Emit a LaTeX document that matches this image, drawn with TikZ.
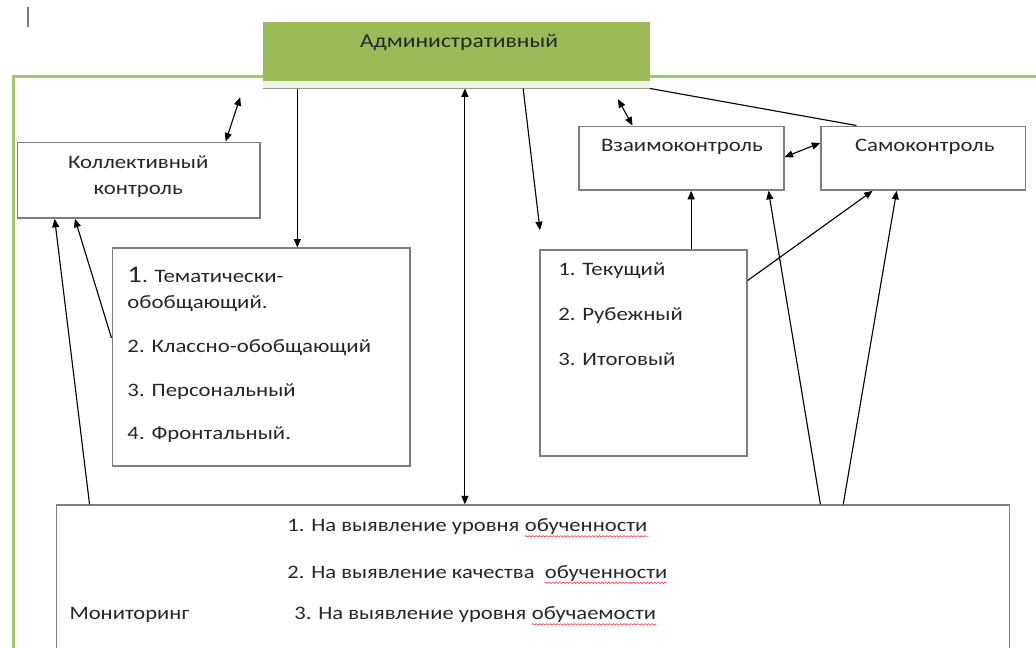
\documentclass[tikz,border=0pt]{standalone}
\usepackage{fontspec}
\setmainfont{Carlito}[FakeStretch=1.2]
\newfontfamily\monfont{Carlito}[FakeStretch=1.19]
\usepackage{tikz}
\usetikzlibrary{arrows.meta,calc,decorations.pathmorphing}
\usepackage{xcolor}
\definecolor{admingreen}{HTML}{9BBB59}
\definecolor{framegreen}{HTML}{A9C56D}
\definecolor{boxgray}{HTML}{7F7F7F}
\definecolor{inkgray}{HTML}{262626}

\tikzset{
	box/.style={draw=boxgray,line width=1pt,rectangle,inner sep=0pt},
	txt/.style={text=inkgray,inner sep=0pt,font=\fontsize{13.5}{19}\selectfont},
	montxt/.style={text=inkgray,inner sep=0pt,font=\monfont\fontsize{13.5}{16}\selectfont},
	link/.style={black,line width=0.8pt},
	spell/.style={draw=red!80,line width=0.4pt,decorate,decoration={snake,amplitude=0.5pt,segment length=2.5pt}}
}

\begin{document}
\begin{tikzpicture}[>={Stealth[inset=0pt,length=6pt,width=5pt]}]
		%
		\draw [use as bounding box,color=white] (0,0) rectangle (25.9,-16.175);
		%
		\draw [gray,line width=1.2pt] (0.7,-0.175) -- (0.7,-0.675);
		\draw [framegreen,line width=2.2pt] (26.2,-1.9) -| (0.325,-16.5);
		%
		\node[rectangle,fill=admingreen,minimum width=9.675cm,minimum height=1.65cm] (admin) at (11.4125,-1.375) {};
		\fill [admingreen!18] ($(admin.south west)+(0,0.2)$) rectangle (admin.south east);
		\draw [boxgray!80,line width=1pt] (admin.south west) -- (admin.south east);
		\node[txt,text=black!85,font=\fontsize{14}{16}\selectfont] (adminlbl) at (11.475,-1.05) {Административный};
		%
		\node[box,minimum width=6.075cm,minimum height=1.9cm] (kollekt) at (3.4625,-4.5) {};
		\node[txt,align=center] (kollektlbl) at (3.45,-4.41) {Коллективный\\контроль};
		%
		\node[box,minimum width=7.45cm,minimum height=5.45cm] (tema) at (6.525,-8.925) {};
		\node[txt,anchor=west] (tema1) at (3.175,-6.875) {{\fontsize{17}{18}\selectfont 1}. Тематически-};
		\node[txt,anchor=west] (tema1b) at (3.175,-7.575) {обобщающий.};
		\node[txt,anchor=west] (tema2) at (3.175,-8.7) {2. Классно-обобщающий};
		\node[txt,anchor=west] (tema3) at (3.175,-9.8) {3. Персональный};
		\node[txt,anchor=west] (tema4) at (3.175,-10.875) {4. Фронтальный.};
		%
		\node[box,minimum width=5.175cm,minimum height=5.15cm] (tek) at (16.0875,-8.825) {};
		\node[txt,anchor=west] (tek1) at (13.95,-6.775) {1. Текущий};
		\node[txt,anchor=west] (tek2) at (13.95,-7.875) {2. Рубежный};
		\node[txt,anchor=west] (tek3) at (13.95,-8.975) {3. Итоговый};
		%
		\node[box,minimum width=5.125cm,minimum height=1.6cm] (vzaimo) at (17.0375,-3.95) {};
		\node[txt] (vzaimolbl) at (17.05,-3.675) {Взаимоконтроль};
		\node[box,minimum width=5.125cm,minimum height=1.6cm] (samo) at (23.0875,-3.95) {};
		\node[txt] (samolbl) at (23.125,-3.675) {Самоконтроль};
		%
		\node[box,minimum width=23.85cm,minimum height=3.975cm] (monitor) at (13.325,-14.6125) {};
		\node[montxt,anchor=west] (mon1) at (7.175,-13.175) {1. На выявление уровня};
		\node[montxt,anchor=base west] (mon1w) at ([xshift=3.5pt]mon1.base east) {обученности};
		\node[montxt,anchor=west] (mon2) at (7.175,-14.3) {2. На выявление качества};
		\node[montxt,anchor=base west] (mon2w) at ([xshift=7pt]mon2.base east) {обученности};
		\node[montxt,anchor=west] (monlbl) at (1.725,-15.375) {Мониторинг};
		\node[montxt,anchor=west] (mon3) at (7.35,-15.375) {3. На выявление уровня};
		\node[montxt,anchor=base west] (mon3w) at ([xshift=3.5pt]mon3.base east) {обучаемости};
		\draw [spell] ([yshift=-1pt]mon1w.south west) -- ([yshift=-1pt]mon1w.south east);
		\draw [spell] ([yshift=-1pt]mon2w.south west) -- ([yshift=-1pt]mon2w.south east);
		\draw [spell] ([yshift=-1pt]mon3w.south west) -- ([yshift=-1pt]mon3w.south east);
		%
		\coordinate (kfree) at (6.0,-2.425);
		\coordinate (afree) at (13.5,-5.75);
		\coordinate (vfree) at (15.45,-2.475);
		\coordinate (k1) at ($(kollekt.north west)!0.856!(kollekt.north east)$);
		\coordinate (t1) at ($(tema.north west)!0.621!(tema.north east)$);
		\coordinate (m1) at ($(monitor.north west)!0.4287!(monitor.north east)$);
		\coordinate (a1) at ($(admin.south west)!0.672!(admin.south east)$);
		\coordinate (v1) at ($(vzaimo.north west)!0.263!(vzaimo.north east)$);
		\coordinate (s1) at ($(samo.north west)!0.176!(samo.north east)$);
		\coordinate (v2) at ($(vzaimo.north east)!0.484!(vzaimo.south east)$);
		\coordinate (s2) at ($(samo.north west)!0.266!(samo.south west)$);
		\coordinate (tk1) at ($(tek.north west)!0.729!(tek.north east)$);
		\coordinate (tk2) at ($(tek.north east)!0.15!(tek.south east)$);
		\coordinate (s3) at ($(samo.south west)!0.254!(samo.south east)$);
		\coordinate (m2) at ($(monitor.north west)!0.801!(monitor.north east)$);
		\coordinate (v3) at ($(vzaimo.south west)!0.922!(vzaimo.south east)$);
		\coordinate (m3) at ($(monitor.north west)!0.8249!(monitor.north east)$);
		\coordinate (s4) at ($(samo.south west)!0.371!(samo.south east)$);
		\coordinate (t2) at ($(tema.north west)!0.413!(tema.south west)$);
		\coordinate (k2) at ($(kollekt.south west)!0.239!(kollekt.south east)$);
		\coordinate (m4) at ($(monitor.north west)!0.0356!(monitor.north east)$);
		\coordinate (k3) at ($(kollekt.south west)!0.156!(kollekt.south east)$);
		%
		\draw [link,<->] (kfree) -- (k1);
		\draw [link,->] (t1 |- admin.south) -- (t1);
		\draw [link,<->] (m1 |- admin.south) -- (m1);
		\draw [link,->] (a1) -- (afree);
		\draw [link,<->] (vfree) -- (v1);
		\draw [link,-] (admin.south east) -- (s1);
		\draw [link,<->] (v2) -- (s2);
		\draw [link,->] (tk1) -- (tk1 |- vzaimo.south);
		\draw [link,->] (tk2) -- (s3);
		\draw [link,->] (m2) -- (v3);
		\draw [link,->] (m3) -- (s4);
		\draw [link,->] (t2) -- (k2);
		\draw [link,->] (m4) -- (k3);
		%
	\end{tikzpicture}
\end{document}
